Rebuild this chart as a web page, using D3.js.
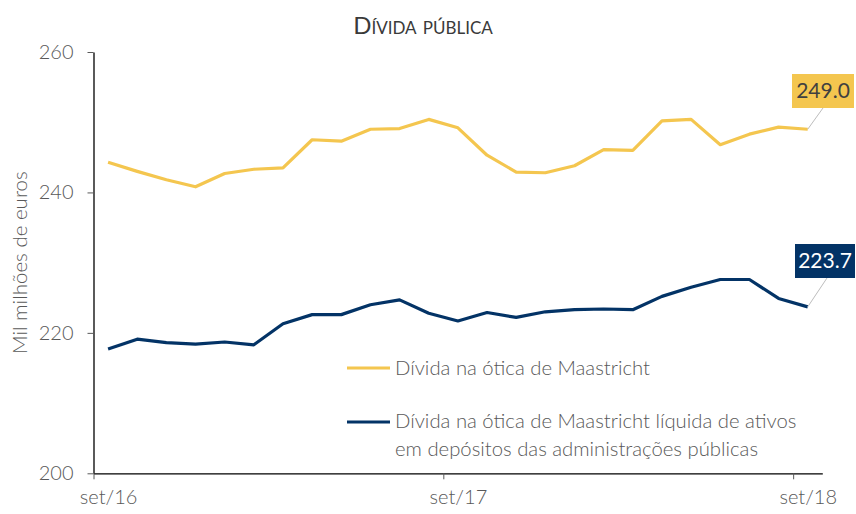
<!DOCTYPE html>
<html>
<head>
<meta charset="utf-8">
<script src="https://cdn.jsdelivr.net/npm/d3@7/dist/d3.min.js"></script>
<style>
  html, body { margin: 0; padding: 0; background: #fff; }
  svg { display: block; font-family: Lato, "Open Sans", sans-serif; }
</style>
</head>
<body>
<svg id="chart" width="856" height="514"></svg>
<script>
const months = ["set/16","out/16","nov/16","dez/16","jan/17","fev/17","mar/17","abr/17","mai/17","jun/17","jul/17","ago/17",
                "set/17","out/17","nov/17","dez/17","jan/18","fev/18","mar/18","abr/18","mai/18","jun/18","jul/18","ago/18","set/18"];
const maastricht = [244.3,243.0,241.8,240.8,242.7,243.3,243.5,247.5,247.3,249.0,249.1,250.4,
                    249.2,245.3,242.9,242.8,243.8,246.1,246.0,250.2,250.4,246.8,248.3,249.3,249.0];
const maastrichtNet = [217.7,219.1,218.6,218.4,218.7,218.3,221.3,222.6,222.6,224.0,224.7,222.8,
                       221.7,222.9,222.2,223.0,223.3,223.4,223.3,225.2,226.5,227.6,227.6,224.9,223.7];
const yTicks = [200,220,240,260];
const xTickLabels = ["set/16","set/17","set/18"];
const seriesNames = ["Dívida na ótica de Maastricht",
                     ["Dívida na ótica de Maastricht líquida de ativos","em depósitos das administrações públicas"]];
const title = "Dívida pública";
const yTitle = "Mil milhões de euros";

const colYellow = "#F4C64F", colNavy = "#033366", gray = "#595959";
const svg = d3.select("#chart");
const pLeft = 93.5, pRight = 822.3, pTop = 52, pBottom = 473.3;

const x = d3.scalePoint().domain(months).range([pLeft, pRight]).padding(0.5);
const xb = d3.scaleLinear().domain([-0.5, months.length - 0.5]).range([pLeft, pRight]);
const y = d3.scaleLinear().domain([200, 260]).range([pBottom, pTop]);

// title
svg.append("text").attr("x", 423).attr("y", 34).attr("text-anchor", "middle")
  .style("font-variant", "small-caps").attr("font-size", 24).attr("fill", "#3a3a3a").text(title);

// y title
svg.append("text").attr("transform", `translate(27,${(pTop+pBottom)/2}) rotate(-90)`)
  .attr("text-anchor", "middle").attr("font-size", 20.5).attr("font-weight", 300).attr("fill", gray).text(yTitle);

// y axis
const ya = svg.append("g").attr("transform", `translate(${pLeft},0)`)
  .call(d3.axisLeft(y).tickValues(yTicks).tickSize(6).tickPadding(14).tickSizeOuter(0));
ya.select(".domain").attr("stroke", "#000").attr("stroke-width", 1.3);
ya.selectAll(".tick line").attr("stroke", gray);
ya.selectAll("text").attr("font-size", 20).attr("font-weight", 300).attr("fill", gray).attr("font-family", "Lato, sans-serif");

// x axis tick marks (between categories)
const xt = svg.append("g").attr("transform", `translate(0,${pBottom})`)
  .call(d3.axisBottom(xb).tickValues([-0.5, 11.5, 23.5]).tickSize(6).tickFormat("").tickSizeOuter(0));
xt.select(".domain").attr("stroke", "#000").attr("stroke-width", 1.3);
xt.selectAll(".tick line").attr("stroke", gray);

// x axis labels
const xl = svg.append("g").attr("transform", `translate(0,${pBottom})`)
  .call(d3.axisBottom(x).tickValues(xTickLabels).tickSize(0).tickPadding(17));
xl.select(".domain").remove();
xl.selectAll("text").attr("font-size", 20).attr("font-weight", 300).attr("fill", gray).attr("font-family", "Lato, sans-serif");

// lines
const line = d3.line().x((d, i) => x(months[i])).y(d => y(d));
svg.append("path").datum(maastricht).attr("d", line).attr("fill", "none")
  .attr("stroke", colYellow).attr("stroke-width", 3.2).attr("stroke-linejoin", "round");
svg.append("path").datum(maastrichtNet).attr("d", line).attr("fill", "none")
  .attr("stroke", colNavy).attr("stroke-width", 3.2).attr("stroke-linejoin", "round");

// end labels
function endLabel(vals, fill, textFill, bx, by, bw, bh, lx, ly) {
  const n = vals.length - 1;
  const px = x(months[n]), py = y(vals[n]);
  svg.append("line").attr("x1", px).attr("y1", py).attr("x2", lx).attr("y2", ly)
    .attr("stroke", "#bdbdbd").attr("stroke-width", 1);
  svg.append("rect").attr("x", bx).attr("y", by).attr("width", bw).attr("height", bh).attr("fill", fill);
  svg.append("text").attr("x", bx + bw / 2).attr("y", by + bh / 2 + 7).attr("text-anchor", "middle")
    .attr("font-size", 21).attr("fill", textFill).text(vals[n].toFixed(1));
}
endLabel(maastricht, colYellow, "#404040", 792, 74, 62, 34, 823, 108);
endLabel(maastrichtNet, colNavy, "#ffffff", 795, 244, 60, 34, 827, 278);

// legend
const lg = svg.append("g");
lg.append("line").attr("x1", 347).attr("x2", 390).attr("y1", 368).attr("y2", 368)
  .attr("stroke", colYellow).attr("stroke-width", 3.2);
lg.append("text").attr("x", 395).attr("y", 375).attr("font-size", 20.3).attr("font-weight", 300).attr("fill", gray).text(seriesNames[0]);
lg.append("line").attr("x1", 347).attr("x2", 390).attr("y1", 422).attr("y2", 422)
  .attr("stroke", colNavy).attr("stroke-width", 3.2);
lg.append("text").attr("x", 395).attr("y", 428).attr("font-size", 20.3).attr("font-weight", 300).attr("fill", gray)
  .selectAll("tspan").data(seriesNames[1]).join("tspan")
  .attr("x", 395).attr("dy", (d, i) => i === 0 ? 0 : 28).text(d => d);
</script>
</body>
</html>
